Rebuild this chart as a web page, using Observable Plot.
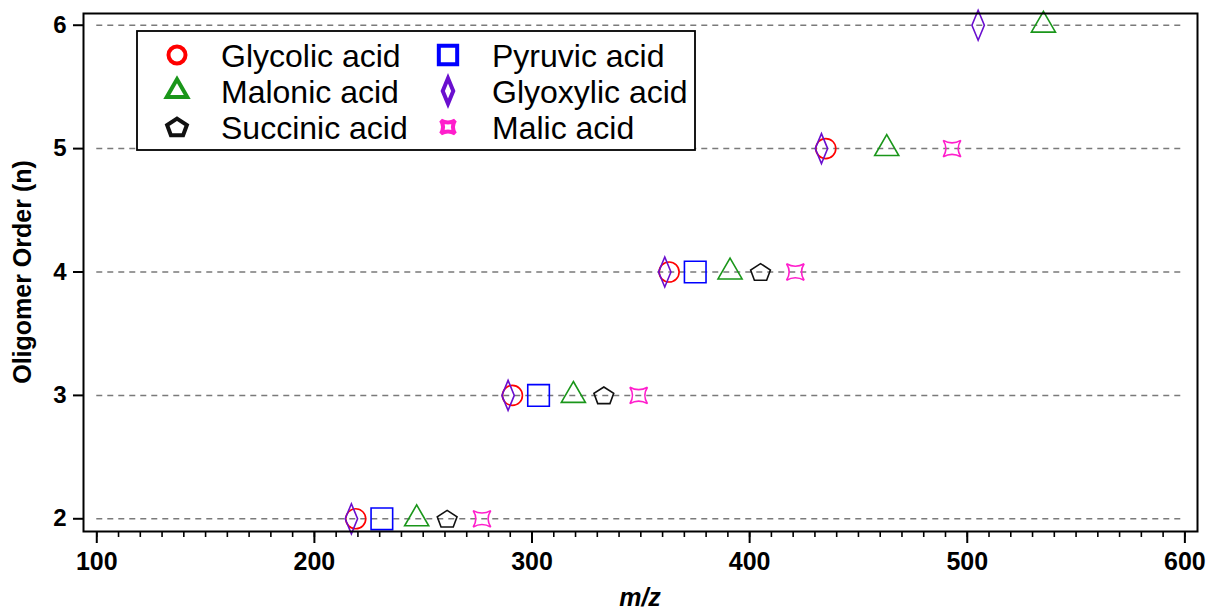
<!DOCTYPE html>
<html>
<head>
<meta charset="utf-8">
<script src="https://cdn.jsdelivr.net/npm/d3@7"></script>
<script src="https://cdn.jsdelivr.net/npm/@observablehq/plot@0.6"></script>
<style>
  html, body { margin: 0; padding: 0; background: #fff; }
  #chart { width: 1209px; height: 609px; }
</style>
</head>
<body>
<div id="chart"></div>
<script>
// ---------- data ----------
const orders = [2, 3, 4, 5, 6];
const acidNames = ["Glycolic acid", "Malonic acid", "Succinic acid", "Pyruvic acid", "Glyoxylic acid", "Malic acid"];
// m/z per oligomer order (null = not observed)
const glycolicMz  = [219, 291, 363, 435, null];
const malonicMz   = [247, 319, 391, 463, 535];
const succinicMz  = [261, 333, 405, null, null];
const pyruvicMz   = [231, 303, 375, null, null];
const glyoxylicMz = [217, 289, 361, 433, 505];
const malicMz     = [277, 349, 421, 493, null];
const acidColors  = ["#ff0000", "#1a961a", "#111111", "#0000ff", "#6a0fcf", "#ff1ecc"];
const xTickValues = [100, 200, 300, 400, 500, 600];
const xMinorTicks = d3.range(100, 601, 10);
const yTickValues = [2, 3, 4, 5, 6];
const xLabel = "m/z";
const yLabel = "Oligomer Order (n)";

// ---------- custom symbols (scaled by r = sqrt(size/PI)) ----------
const R = s => Math.sqrt(s / Math.PI);
const symCircle = { draw(c, s) { const r = R(s); c.moveTo(r, 0); c.arc(0, 0, r, 0, 2 * Math.PI); c.closePath(); } };
const symSquare = { draw(c, s) { const h = R(s) * 1.08; c.moveTo(-h, -h); c.lineTo(h, -h); c.lineTo(h, h); c.lineTo(-h, h); c.closePath(); } };
const symTriangle = { draw(c, s) { const cr = R(s) * 1.39; const a = cr * Math.sqrt(3) / 2; c.moveTo(0, -cr); c.lineTo(a, cr / 2); c.lineTo(-a, cr / 2); c.closePath(); } };
const symPentagon = { draw(c, s) { const r = R(s); const rx = r * 1.04, ry = r * 0.92; for (let i = 0; i < 5; i++) { const t = -Math.PI / 2 + i * 2 * Math.PI / 5; const px = rx * Math.cos(t), py = ry * Math.sin(t) + r * 0.08; i ? c.lineTo(px, py) : c.moveTo(px, py); } c.closePath(); } };
const symDiamond = { draw(c, s) { const r = R(s); const w = r * 0.62, h = r * 1.5; c.moveTo(0, -h); c.lineTo(w, 0); c.lineTo(0, h); c.lineTo(-w, 0); c.closePath(); } };
const symStar = { draw(c, s) { const r = R(s); const hx = r * 0.88, hy = r * 0.82, k = 0.4; c.moveTo(-hx, -hy); c.quadraticCurveTo(0, -hy * k, hx, -hy); c.quadraticCurveTo(hx * k, 0, hx, hy); c.quadraticCurveTo(0, hy * k, -hx, hy); c.quadraticCurveTo(-hx * k, 0, -hx, -hy); c.closePath(); } };
const acidSymbols = [symCircle, symTriangle, symPentagon, symSquare, symDiamond, symStar];
const legendSymbolR = [8.5, 8.5, 10, 8.5, 8.5, 8];

const mzSeries = [glycolicMz, malonicMz, succinicMz, pyruvicMz, glyoxylicMz, malicMz];
const series = acidNames.map((name, i) => ({
  name, color: acidColors[i], symbol: acidSymbols[i],
  rows: orders.map((n, j) => ({ n, mz: mzSeries[i][j] })).filter(d => d.mz != null)
}));
// draw order: glyoxylic on top
const drawOrder = [0, 3, 1, 2, 5, 4];

const W = 1209, H = 609;
const plot = Plot.plot({
  width: W, height: H,
  marginLeft: 83, marginRight: 12, marginTop: 13, marginBottom: 78,
  style: { fontFamily: "'Liberation Sans', Arial, sans-serif", background: "#fff", color: "#000", overflow: "visible" },
  x: { domain: [93.9, 605.8] },
  y: { domain: [1.897, 6.095] },
  marks: [
    Plot.ruleY(yTickValues, { y: d => d, x1: () => xTickValues[0], x2: () => xTickValues[xTickValues.length - 1], stroke: "#7a7a7a", strokeWidth: 1.5, strokeDasharray: "6,5" }),
    ...drawOrder.map(i => Plot.dot(series[i].rows, {
      x: "mz", y: "n", symbol: series[i].symbol, r: 10,
      stroke: series[i].color, fill: "none", strokeWidth: 1.6
    })),
    Plot.axisX(xMinorTicks, { tickSize: 6, text: null, strokeWidth: 1.6, label: null }),
    Plot.axisX(xTickValues, { tickSize: 12, tickPadding: 9, fontSize: 25, fontWeight: "bold", strokeWidth: 2, label: null, tickFormat: "d" }),
    Plot.axisY(yTickValues, { tickSize: 10, tickPadding: 7, fontSize: 24, fontWeight: "bold", strokeWidth: 2, label: null, tickFormat: "d" }),
    Plot.frame({ stroke: "#000", strokeWidth: 2 })
  ]
});
document.getElementById("chart").appendChild(plot);

// ---------- titles & legend ----------
const svg = d3.select(plot);
const xs = plot.scale("x"), ys = plot.scale("y");
const cx = (xs.range[0] + xs.range[1]) / 2;
const cy = (ys.range[0] + ys.range[1]) / 2;
svg.append("text").attr("x", cx).attr("y", 606)
  .attr("text-anchor", "middle").attr("font-size", 25).attr("font-weight", "bold").attr("font-style", "italic")
  .attr("fill", "#000").text(xLabel);
svg.append("text").attr("transform", `translate(31,${cy}) rotate(-90)`)
  .attr("text-anchor", "middle").attr("font-size", 25).attr("font-weight", "bold")
  .attr("fill", "#000").text(yLabel);

const lg = svg.append("g").attr("text-anchor", "start");
const lx0 = 137, ly0 = 31, lx1 = 695, ly1 = 150;
lg.append("rect").attr("x", lx0).attr("y", ly0).attr("width", lx1 - lx0).attr("height", ly1 - ly0)
  .attr("fill", "#fff").attr("stroke", "#000").attr("stroke-width", 1.8);
const colSym = [177, 448], colText = [221, 492], rowY = [55, 91, 127];
acidNames.forEach((name, i) => {
  const col = Math.floor(i / 3), row = i % 3;
  const p = d3.path();
  acidSymbols[i].draw(p, Math.PI * legendSymbolR[i] * legendSymbolR[i]);
  lg.append("path").attr("d", p.toString())
    .attr("transform", `translate(${colSym[col]},${rowY[row]})`)
    .attr("fill", "none").attr("stroke", acidColors[i]).attr("stroke-width", 4).attr("stroke-linejoin", "miter");
  lg.append("text").attr("x", colText[col]).attr("y", rowY[row]).attr("dy", "0.36em")
    .attr("text-anchor", "start").attr("font-size", 32).attr("fill", "#000").text(name);
});
</script>
</body>
</html>
